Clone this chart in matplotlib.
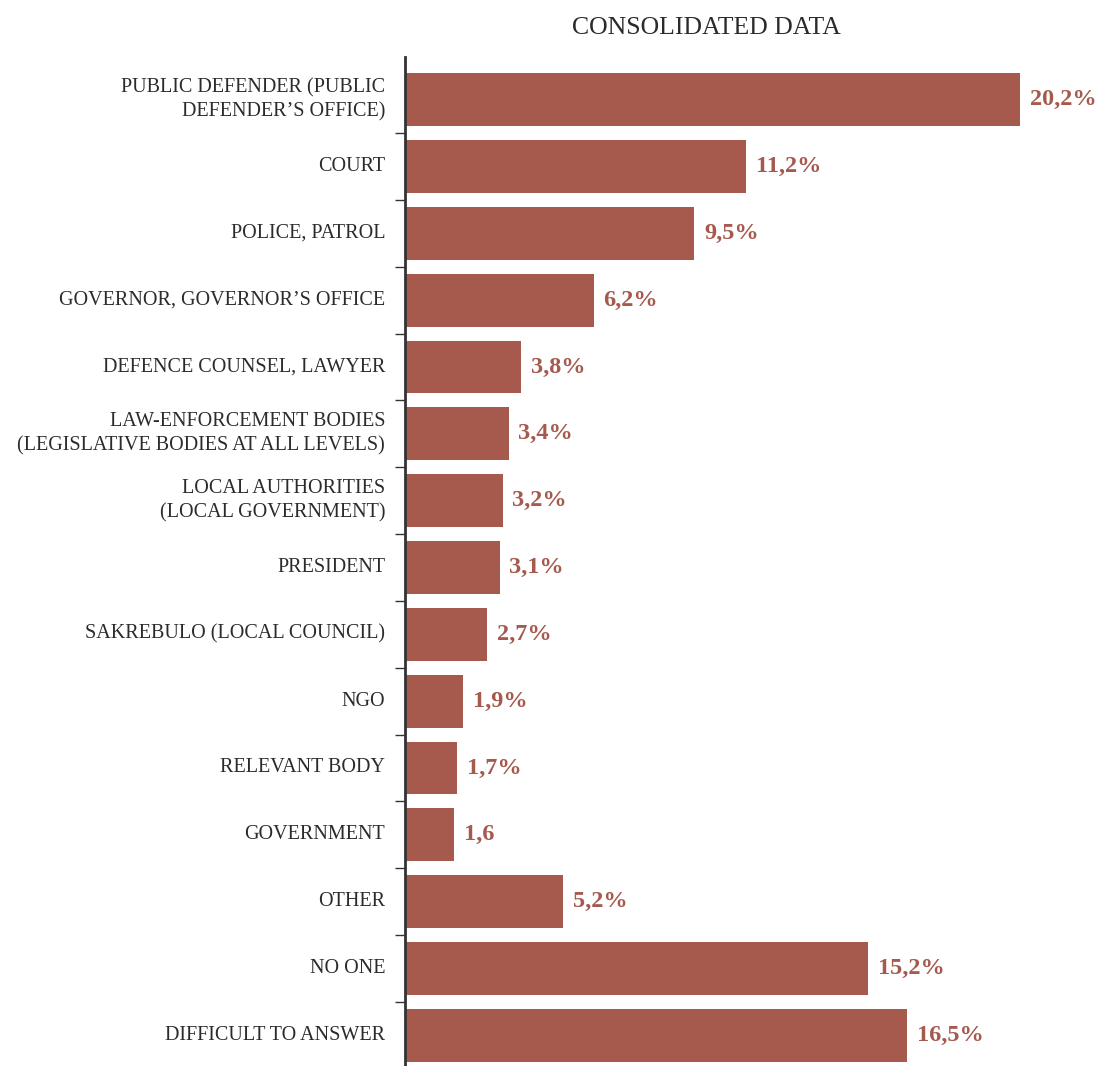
import matplotlib
matplotlib.use("Agg")
import matplotlib.pyplot as plt

categories = [
    "PUBLIC DEFENDER (PUBLIC\nDEFENDER\u2019S OFFICE)",
    "COURT",
    "POLICE, PATROL",
    "GOVERNOR, GOVERNOR\u2019S OFFICE",
    "DEFENCE COUNSEL, LAWYER",
    "LAW-ENFORCEMENT BODIES\n(LEGISLATIVE BODIES AT ALL LEVELS)",
    "LOCAL AUTHORITIES\n(LOCAL GOVERNMENT)",
    "PRESIDENT",
    "SAKREBULO (LOCAL COUNCIL)",
    "NGO",
    "RELEVANT BODY",
    "GOVERNMENT",
    "OTHER",
    "NO ONE",
    "DIFFICULT TO ANSWER",
]
values = [20.2, 11.2, 9.5, 6.2, 3.8, 3.4, 3.2, 3.1, 2.7, 1.9, 1.7, 1.6, 5.2, 15.2, 16.5]
value_labels = ["20,2%", "11,2%", "9,5%", "6,2%", "3,8%", "3,4%", "3,2%", "3,1%",
                "2,7%", "1,9%", "1,7%", "1,6", "5,2%", "15,2%", "16,5%"]

bar_color = "#A65A4E"
text_color = "#2b2b2b"

fig = plt.figure(figsize=(10.98, 10.66), dpi=100)
ax = fig.add_axes([0.369, 0.0, 0.56, 0.9465])

pos = list(range(len(categories)))
ax.barh(pos, values, height=0.79, color=bar_color)

ax.set_ylim(len(categories) - 1 + 0.46, -0.64)
ax.set_xlim(0, 20.2)

for y, v, lab in zip(pos, values, value_labels):
    ax.annotate(lab, (v, y), xytext=(7, 0), textcoords="offset points",
                ha="left", va="center", color=bar_color, fontsize=17.5,
                fontweight="bold", family="Liberation Serif", clip_on=False)

for y, cat in zip(pos, categories):
    ax.text(-0.0325, y, cat, transform=ax.get_yaxis_transform(),
            ha="right", va="center", multialignment="right",
            fontsize=14.5, family="Liberation Serif", color=text_color,
            linespacing=1.35)

# tick marks sit between the categories
ax.set_yticks([p + 0.5 for p in pos[:-1]])
ax.set_yticklabels([])
ax.tick_params(axis="y", direction="out", length=7, width=1, color="#333333")
ax.set_xticks([])

for side in ["top", "right", "bottom"]:
    ax.spines[side].set_visible(False)
ax.spines["left"].set_linewidth(2)
ax.spines["left"].set_color("#333333")

fig.text(0.6434, 0.9737, "CONSOLIDATED DATA", ha="center", va="center",
         fontsize=18.5, family="Liberation Serif", color=text_color)

fig.savefig("out.png", dpi=100, facecolor="white")
